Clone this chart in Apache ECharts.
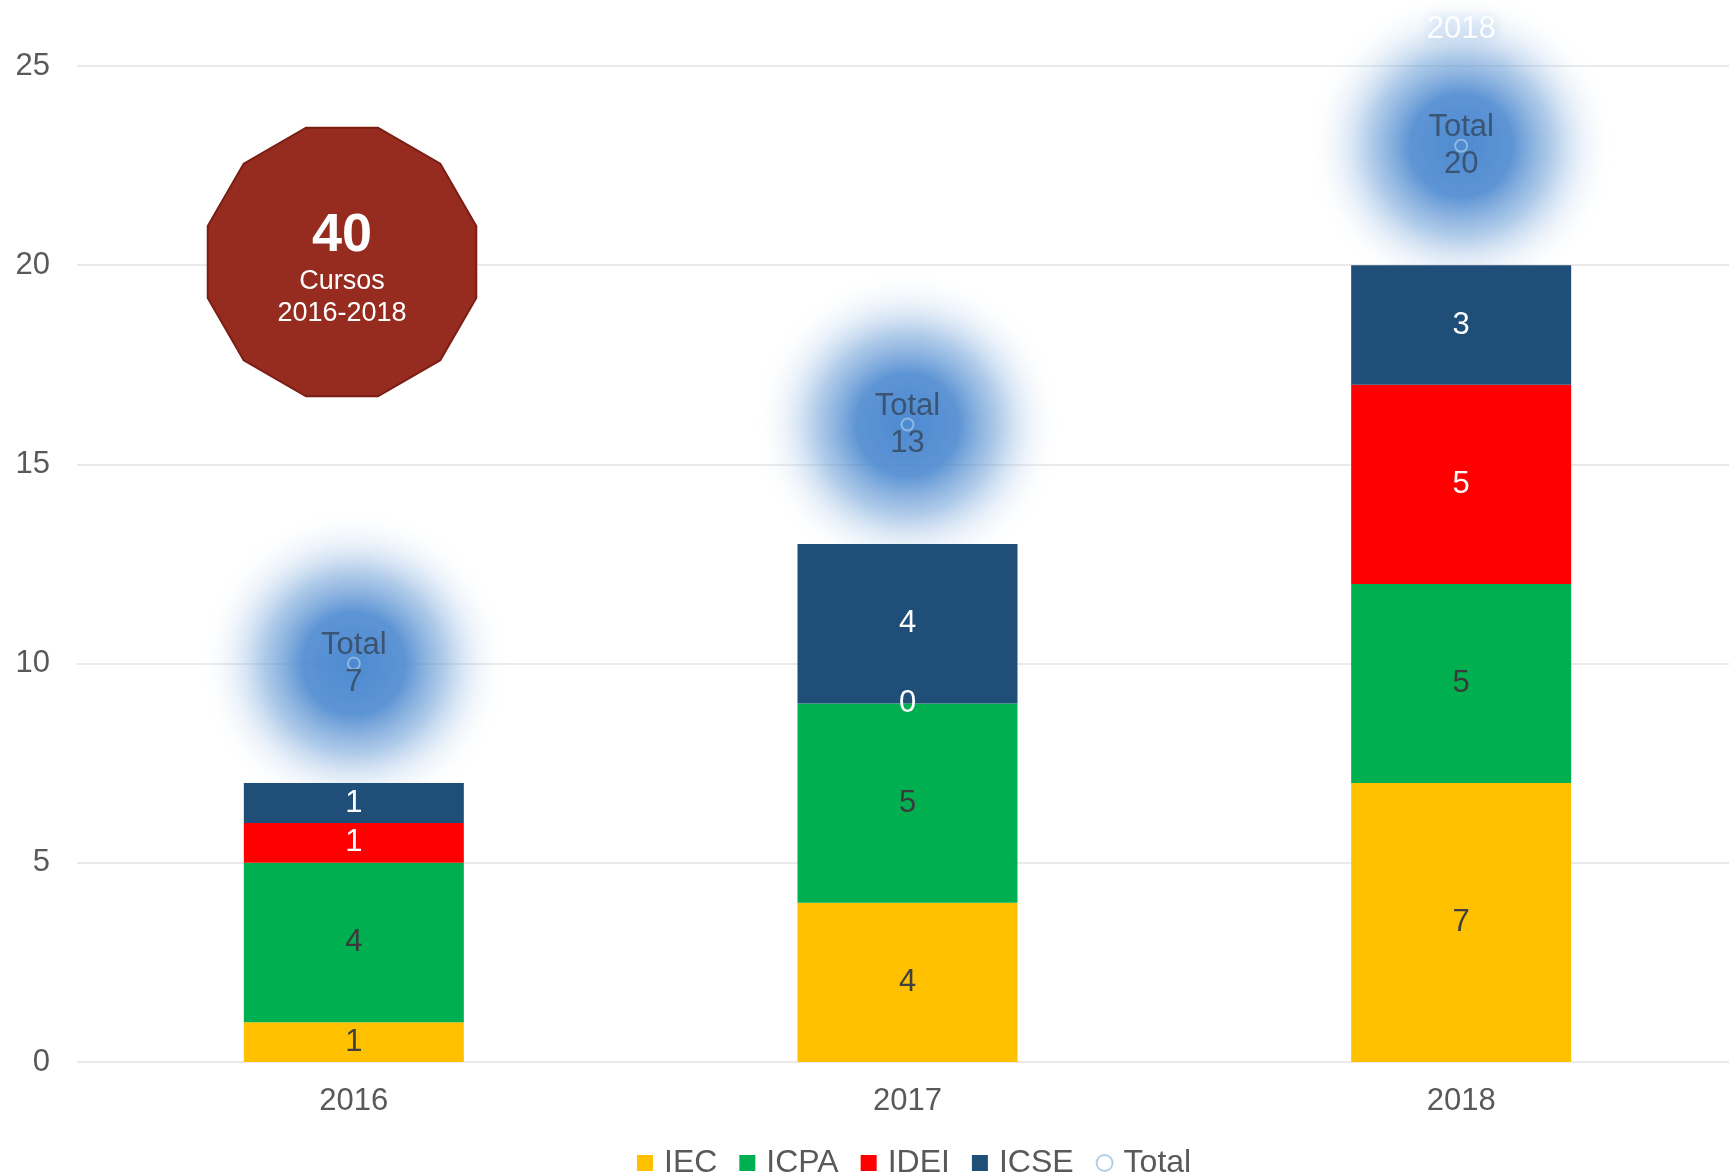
<!DOCTYPE html>
<html>
<head>
<meta charset="utf-8">
<script src="https://cdn.jsdelivr.net/npm/echarts@6/dist/echarts.min.js"></script>
<style>
  html, body { margin: 0; padding: 0; background: #fff; overflow: hidden; }
  #chart { width: 1738px; height: 1174px; }
</style>
</head>
<body>
<div id="chart"></div>
<script>
// 年ごとのカテゴリ
const years = ['2016', '2017', '2018']
// 各シリーズの値
const iec = [1, 4, 7]
const icpa = [4, 5, 5]
const idei = [1, 0, 5]
const icse = [1, 4, 3]
// 合計と、その点を置く高さ
const totals = [7, 13, 20]
const totalPos = [10, 16, 23]
const yTicks = [0, 5, 10, 15, 20, 25]

const font = 'Liberation Sans, Arial, sans-serif'
const textGray = '#595959'
const totalBlue = '#9dc3e6'

// 12角形のバッジ
function dodecagon(cx, cy, r) {
  const pts = []
  for (let i = 0; i < 12; i++) {
    const a = Math.PI / 12 + i * Math.PI / 6
    pts.push([cx + r * Math.cos(a), cy + r * Math.sin(a)])
  }
  return pts
}

function barSeries(name, data, color, labelColor) {
  return {
    name: name,
    type: 'bar',
    stack: 'total',
    barWidth: 220,
    z: 3,
    data: data,
    itemStyle: { color: color },
    label: {
      show: true,
      position: 'inside',
      color: labelColor,
      fontSize: 31,
      fontFamily: font
    }
  }
}

const myChart = echarts.init(document.getElementById('chart'))

myChart.setOption({
  animation: false,
  grid: { left: 77, right: 0, top: 66, bottom: 112 },
  legend: {
    left: 632,
    top: 1142,
    itemWidth: 16,
    itemHeight: 16,
    itemGap: 22,
    textStyle: { fontSize: 32, color: textGray, fontFamily: font, padding: [0, 0, 0, 6] },
    data: [
      { name: 'IEC', icon: 'rect' },
      { name: 'ICPA', icon: 'rect' },
      { name: 'IDEI', icon: 'rect' },
      { name: 'ICSE', icon: 'rect' },
      { name: 'Total', icon: 'emptyCircle', itemStyle: { color: totalBlue, borderWidth: 2 } }
    ]
  },
  xAxis: {
    type: 'category',
    data: years,
    axisLine: { show: false },
    axisTick: { show: false },
    axisLabel: { fontSize: 31, color: textGray, fontFamily: font, margin: 24 }
  },
  yAxis: {
    type: 'value',
    min: yTicks[0],
    max: yTicks[yTicks.length - 1],
    interval: 5,
    axisLine: { show: false },
    axisTick: { show: false },
    axisLabel: { fontSize: 31, color: textGray, fontFamily: font, margin: 27 },
    splitLine: { lineStyle: { color: '#e3e3e3', width: 1.5 } }
  },
  series: [
    // 合計の光るぼかし
    {
      type: 'scatter',
      z: 1,
      silent: true,
      symbol: 'circle',
      symbolSize: 310,
      data: totalPos,
      itemStyle: {
        opacity: 0.92,
        color: {
          type: 'radial', x: 0.5, y: 0.5, r: 0.5,
          colorStops: [
            { offset: 0, color: 'rgba(62,128,205,1)' },
            { offset: 0.33, color: 'rgba(70,133,206,0.95)' },
            { offset: 0.58, color: 'rgba(110,160,215,0.6)' },
            { offset: 0.8, color: 'rgba(175,203,235,0.22)' },
            { offset: 1, color: 'rgba(255,255,255,0)' }
          ]
        }
      },
      label: {
        show: true,
        position: 'inside',
        offset: [0, -116],
        // 白い年ラベルは背景が白くない最後の年だけ見える
        formatter: p => p.dataIndex === years.length - 1 ? years[p.dataIndex] : '',
        color: '#ffffff',
        fontSize: 31,
        fontFamily: font,
        textShadowColor: 'rgba(120,165,220,0.6)',
        textShadowBlur: 12
      }
    },
    barSeries('IEC', iec, '#FFC000', '#404040'),
    barSeries('ICPA', icpa, '#00B050', '#3a3a3a'),
    barSeries('IDEI', idei, '#FF0000', '#ffffff'),
    barSeries('ICSE', icse, '#1F4E79', '#ffffff'),
    {
      name: 'Total',
      type: 'scatter',
      z: 4,
      symbol: 'circle',
      symbolSize: 12,
      data: totalPos,
      itemStyle: { color: 'rgba(0,0,0,0)', borderColor: totalBlue, borderWidth: 2 },
      label: {
        show: true,
        position: 'inside',
        lineHeight: 37,
        formatter: p => 'Total\n' + totals[p.dataIndex],
        color: '#34465c',
        fontSize: 31,
        fontFamily: font
      }
    }
  ],
  graphic: [
    {
      type: 'polygon',
      z: 10,
      shape: { points: dodecagon(342, 262, 139) },
      style: { fill: '#962B1F', stroke: '#7A1E14', lineWidth: 2 }
    },
    {
      type: 'text',
      z: 11,
      x: 342, y: 236,
      style: {
        text: '40', fill: '#fff', fontSize: 54, fontWeight: 'bold',
        fontFamily: font, align: 'center', verticalAlign: 'middle'
      }
    },
    {
      type: 'text',
      z: 11,
      x: 342, y: 282,
      style: {
        text: 'Cursos', fill: '#fff', fontSize: 27,
        fontFamily: font, align: 'center', verticalAlign: 'middle'
      }
    },
    {
      type: 'text',
      z: 11,
      x: 342, y: 314,
      style: {
        text: '2016-2018', fill: '#fff', fontSize: 27,
        fontFamily: font, align: 'center', verticalAlign: 'middle'
      }
    }
  ]
})
</script>
</body>
</html>
